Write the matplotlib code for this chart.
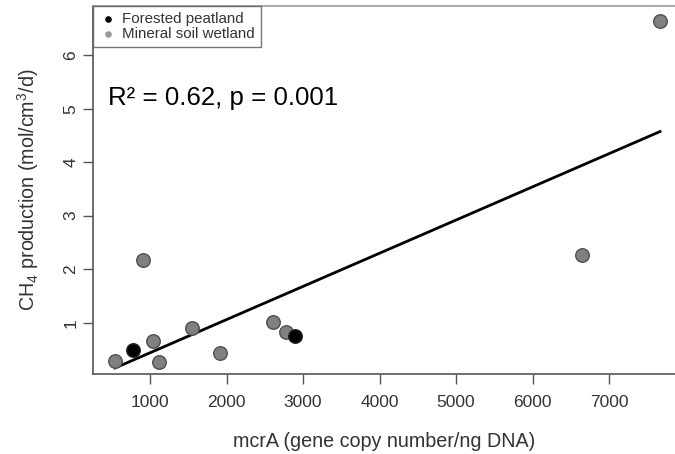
import matplotlib
matplotlib.use("Agg")
import matplotlib.pyplot as plt
import numpy as np

plt.rcParams['font.family'] = ['Liberation Sans', 'DejaVu Sans']
plt.rcParams['mathtext.fontset'] = 'custom'
plt.rcParams['mathtext.rm'] = 'Liberation Sans'
plt.rcParams['mathtext.it'] = 'Liberation Sans:italic'

# mcrA (gene copies / ng DNA) vs CH4 production
forest_x = [782, 2895]
forest_y = [0.49, 0.76]
mineral_x = [542, 1035, 1113, 904, 1553, 1911, 2612, 2782, 6643, 7667]
mineral_y = [0.28, 0.65, 0.27, 2.17, 0.90, 0.44, 1.02, 0.82, 2.26, 6.64]
xticks = [1000, 2000, 3000, 4000, 5000, 6000, 7000]
yticks = [1, 2, 3, 4, 5, 6]

all_x = np.array(forest_x + mineral_x, dtype=float)
all_y = np.array(forest_y + mineral_y, dtype=float)
slope, icpt = np.polyfit(all_x, all_y, 1)

fig = plt.figure(figsize=(6.75, 4.54), dpi=100)
ax = fig.add_axes([0.138, 0.176, 0.862, 0.811])

xs = np.array([all_x.min(), all_x.max()])
ax.plot(xs, icpt + slope * xs, color='black', lw=2, zorder=2)

ax.scatter(mineral_x, mineral_y, s=95, c='#808080', edgecolors='#505050',
           linewidths=1, zorder=3)
ax.scatter(forest_x, forest_y, s=95, c='black', edgecolors='#222222',
           linewidths=1, zorder=4)

ax.set_xlim(255, 7863)
ax.set_ylim(0.04, 6.92)
ax.set_xticks(xticks)
ax.set_yticks(yticks)
ax.tick_params(axis='both', length=7, width=1, color='#555555',
               labelcolor='#333333', labelsize=12.5)
ax.tick_params(axis='x', pad=8)
plt.setp(ax.get_yticklabels(), rotation=90, va='center')

for side in ['left', 'bottom']:
    ax.spines[side].set_color('#555555')
    ax.spines[side].set_linewidth(1.2)
ax.spines['top'].set_color('#999999')
ax.spines['top'].set_linewidth(1.2)
ax.spines['right'].set_visible(False)

ax.set_xlabel('mcrA (gene copy number/ng DNA)', fontsize=14.2,
              color='#333333', labelpad=16)
ax.set_ylabel('CH$_4$ production (mol/cm$^3$/d)', fontsize=14.2,
              color='#333333', labelpad=16)

ax.text(450, 5.2, 'R² = 0.62, p = 0.001', fontsize=18.6, color='black',
        va='center', ha='left')

h1 = ax.scatter([], [], s=14, c='black')
h2 = ax.scatter([], [], s=14, c='#999999')
leg = ax.legend([h1, h2], ['Forested peatland', 'Mineral soil wetland'],
                loc='upper left', bbox_to_anchor=(0, 1), borderaxespad=0,
                fancybox=False, fontsize=10.9, handletextpad=0.3,
                handlelength=1.2, labelspacing=0.05, borderpad=0.4,
                labelcolor='#333333')
leg.get_frame().set_edgecolor('#555555')
leg.get_frame().set_linewidth(1)

fig.savefig('out.png', dpi=100)
